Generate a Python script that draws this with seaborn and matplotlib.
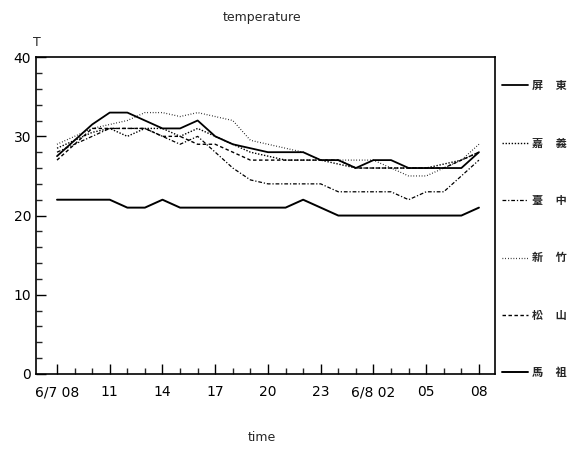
import numpy as np
import pandas as pd
import seaborn as sns
import matplotlib.pyplot as plt

# hourly readings, 6/7 08h -> 6/8 08h
hours = list(range(25))
stations = ['屏東', '嘉義', '臺中', '新竹', '松山', '馬祖']
pingtung = [27.5, 29.5, 31.5, 33, 33, 32, 31, 31, 32, 30, 29, 28.5, 28, 28, 28,
            27, 27, 26, 27, 27, 26, 26, 26, 26, 28]
chiayi = [28.5, 29.5, 30.5, 31, 30, 31, 31, 30, 31, 30, 29, 28, 27.5, 27, 27,
          27, 26.5, 26, 26, 26, 26, 26, 26.5, 27, 28]
taichung = [28, 29, 30, 31, 31, 31, 30, 29, 30, 28, 26, 24.5, 24, 24, 24,
            24, 23, 23, 23, 23, 22, 23, 23, 25, 27]
hsinchu = [29, 30, 31, 31.5, 32, 33, 33, 32.5, 33, 32.5, 32, 29.5, 29, 28.5, 28,
           27, 27, 27, 27, 26, 25, 25, 26, 27, 29]
songshan = [27, 29, 31, 31, 31, 31, 30, 30, 29, 29, 28, 27, 27, 27, 27,
            27, 27, 26, 26, 26, 26, 26, 26, 27, 28]
matsu = [22, 22, 22, 22, 21, 21, 22, 21, 21, 21, 21, 21, 21, 21, 22,
         21, 20, 20, 20, 20, 20, 20, 20, 20, 21]
series = [pingtung, chiayi, taichung, hsinchu, songshan, matsu]

xtick_pos = [0, 3, 6, 9, 12, 15, 18, 21, 24]
xtick_labels = ['6/7 08', '11', '14', '17', '20', '23', '6/8 02', '05', '08']

sns.set_style('ticks')
plt.rcParams['font.family'] = ['DejaVu Sans', 'Noto Sans CJK TC']

fig = plt.figure(figsize=(5.7, 4.5), dpi=100)
ax = fig.add_axes([0.063, 0.169, 0.805, 0.704])

styles = {
    '屏東': dict(linestyle='-', linewidth=1.3),
    '嘉義': dict(linestyle=(0, (1, 1.2)), linewidth=1.0),
    '臺中': dict(linestyle=(0, (3, 1.5, 1, 1.5)), linewidth=0.9),
    '新竹': dict(linestyle=(0, (0.6, 1.6)), linewidth=0.9),
    '松山': dict(linestyle=(0, (2.5, 1.8)), linewidth=1.0),
    '馬祖': dict(linestyle='-', linewidth=1.4),
}

for name, vals in zip(stations, series):
    label = name[0] + '     ' + name[1]
    sns.lineplot(x=hours, y=vals, ax=ax, color='black', label=label, **styles[name])

ax.set_xlim(-1.2, 24.9)
ax.set_ylim(0, 40)
ax.set_xticks(xtick_pos)
ax.set_xticklabels(xtick_labels)
ax.set_xticks(hours, minor=True)
ax.set_yticks([0, 10, 20, 30, 40])
ax.set_yticks(np.arange(0, 41, 2), minor=True)
ax.tick_params(axis='both', which='major', direction='in', length=7, width=1,
               labelsize=10, colors='black')
ax.tick_params(axis='both', which='minor', direction='in', length=4, width=1)
ax.tick_params(axis='x', pad=8)
for s in ax.spines.values():
    s.set_visible(True)
    s.set_linewidth(1.2)
    s.set_color('black')

ax.set_xlabel('')
ax.set_ylabel('')
fig.text(0.46, 0.027, 'time', fontsize=9, ha='center', va='center')
fig.text(0.065, 0.905, 'T', fontsize=9, ha='center', va='center')
fig.text(0.46, 0.96, 'temperature', fontsize=9, ha='center', va='center')

leg = ax.legend(loc='center left', bbox_to_anchor=(1.015, 0.457), frameon=False,
                labelspacing=4.0, handlelength=2.4, handletextpad=0.3,
                borderaxespad=0, borderpad=0,
                prop={'family': ['Noto Sans CJK TC'], 'weight': 'bold', 'size': 8})

fig.savefig('out.png', dpi=100)
